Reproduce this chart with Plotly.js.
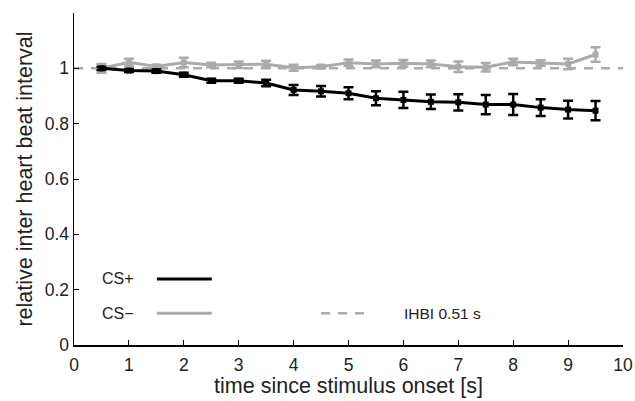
<!DOCTYPE html>
<html><head><meta charset="utf-8">
<script src="https://cdn.plot.ly/plotly-3.0.1.min.js"></script>
<style>html,body{margin:0;padding:0;background:#fff}#c{width:635px;height:401px}</style>
</head><body><div id="c"></div>
<script>
const time = [0.5,1,1.5,2,2.5,3,3.5,4,4.5,5,5.5,6,6.5,7,7.5,8,8.5,9,9.5];
const csPlus = [1.0,0.992,0.99,0.977,0.955,0.955,0.947,0.922,0.917,0.91,0.892,0.886,0.879,0.877,0.869,0.869,0.858,0.851,0.847];
const csPlusErr = [0.006,0.005,0.006,0.007,0.007,0.007,0.012,0.018,0.019,0.022,0.025,0.029,0.026,0.029,0.035,0.038,0.03,0.032,0.035];
const csMinus = [1.0,1.022,1.007,1.021,1.012,1.013,1.015,1.002,1.006,1.02,1.016,1.018,1.016,1.006,1.004,1.023,1.019,1.016,1.05];
const csMinusErr = [0.016,0.013,0.006,0.017,0.008,0.012,0.012,0.011,0.006,0.012,0.012,0.012,0.012,0.019,0.015,0.012,0.01,0.019,0.026];
const baseline = 1;
const xTicks = [0,1,2,3,4,5,6,7,8,9,10];
const yTicks = [0,0.2,0.4,0.6,0.8,1];
const yTickLabels = ['0','0.2','0.4','0.6','0.8','1'];

const grey = '#ababab';
const traces = [
  {x:[0,10], y:[baseline,baseline], mode:'lines', line:{color:grey, width:2.5, dash:'9px,8px'}, hoverinfo:'skip'},
  {x:time, y:csMinus, mode:'lines+markers', line:{color:grey, width:3}, marker:{symbol:'square', size:6, color:grey},
   error_y:{type:'data', array:csMinusErr, color:grey, thickness:2.5, width:5}},
  {x:time, y:csPlus, mode:'lines+markers', line:{color:'#000', width:3}, marker:{symbol:'square', size:6, color:'#000'},
   error_y:{type:'data', array:csPlusErr, color:'#000', thickness:2.5, width:5}}
];

const F = '"Liberation Sans", Arial, sans-serif';
const layout = {
  width:635, height:401, showlegend:false,
  margin:{l:74, r:12, t:13, b:56},
  paper_bgcolor:'#fff', plot_bgcolor:'#fff',
  font:{family:F, size:17, color:'#222'},
  xaxis:{range:[0,10], tickvals:xTicks, ticks:'inside', ticklen:5, tickcolor:'#000', showline:true, linecolor:'#000', linewidth:1.5,
    showgrid:false, zeroline:false, automargin:false, ticklabelstandoff:3, tickfont:{family:F,size:17.5,color:'#222'},
    title:{text:'time since stimulus onset [s]', font:{family:F,size:21.5,color:'#222'}, standoff:2}},
  yaxis:{range:[0,1.2], tickvals:yTicks, ticktext:yTickLabels, ticks:'inside', ticklen:5, tickcolor:'#000', showline:true, linecolor:'#000', linewidth:1.5,
    showgrid:false, zeroline:false, automargin:false, tickfont:{family:F,size:17.5,color:'#222'},
    title:{text:'relative inter heart beat interval', font:{family:F,size:21.5,color:'#222'}, standoff:6}},
  shapes:[
    {type:'line', xref:'paper', yref:'paper', x0:0.151, x1:0.251, y0:0.199, y1:0.199, line:{color:'#000', width:3}},
    {type:'line', xref:'paper', yref:'paper', x0:0.151, x1:0.251, y0:0.096, y1:0.096, line:{color:grey, width:3}},
    {type:'line', xref:'paper', yref:'paper', x0:0.450, x1:0.534, y0:0.096, y1:0.096, line:{color:grey, width:2.5, dash:'9px,8px'}}
  ],
  annotations:[
    {xref:'paper', yref:'paper', x:0.08, y:0.199, xanchor:'center', yanchor:'middle', text:'CS+', showarrow:false, font:{family:F,size:16,color:'#222'}},
    {xref:'paper', yref:'paper', x:0.08, y:0.096, xanchor:'center', yanchor:'middle', text:'CS\u2212', showarrow:false, font:{family:F,size:16,color:'#222'}},
    {xref:'paper', yref:'paper', x:0.598, y:0.096, xanchor:'left', yanchor:'middle', text:'IHBI 0.51 s', showarrow:false, font:{family:F,size:15.5,color:'#222'}}
  ]
};
Plotly.newPlot('c', traces, layout, {staticPlot:true});
</script></body></html>
